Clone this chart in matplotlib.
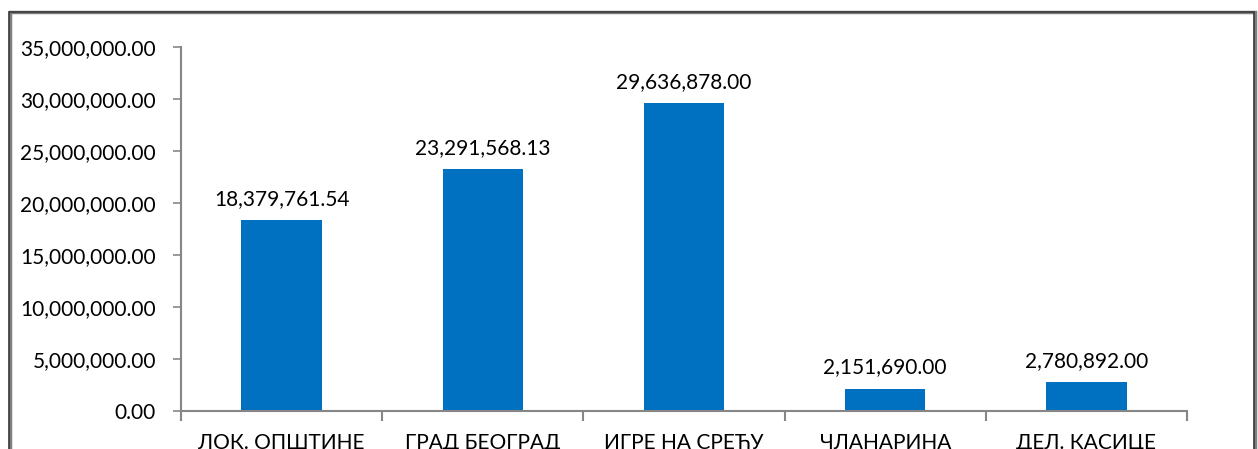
import matplotlib.pyplot as plt
import matplotlib.patches as mpatches
import matplotlib.ticker as mticker
import numpy as np

# Categories and amounts
categories = ['ЛОК. ОПШТИНЕ', 'ГРАД БЕОГРАД', 'ИГРЕ НА СРЕЋУ', 'ЧЛАНАРИНА', 'ДЕЛ. КАСИЦЕ']
amounts = [18379761.54, 23291568.13, 29636878.00, 2151690.00, 2780892.00]
yticks = np.arange(0, 35000001, 5000000)

plt.rcParams['font.family'] = ['Lato', 'DejaVu Sans']

W, H = 1258, 449
fig = plt.figure(figsize=(W / 100, H / 100), dpi=100)

# Outer chart border (cropped at the bottom)
fig.patches.append(mpatches.Rectangle((10 / W, -0.1), 1245 / W, 1 - 12 / H + 0.1,
                                      transform=fig.transFigure, fill=False,
                                      edgecolor='#7f7f7f', linewidth=2.5))
fig.patches.append(mpatches.Rectangle((9 / W, -0.1), 1245 / W, 1 - 12 / H + 0.1,
                                      transform=fig.transFigure, fill=False,
                                      edgecolor='#3a3a3a', linewidth=1.2))

left, right = 181 / W, 1187 / W
bottom, top = 1 - 411 / H, 1 - 47 / H
ax = fig.add_axes([left, bottom, right - left, top - bottom])

x = np.arange(len(categories))
bars = ax.bar(x, amounts, width=0.4, color='#0070c0')

ax.set_xlim(-0.5, len(categories) - 0.5)
ax.set_ylim(0, 35000000)
ax.set_yticks(yticks)
ax.yaxis.set_major_formatter(mticker.FuncFormatter(lambda v, p: f'{v:,.2f}'))

# x ticks at category boundaries, labels centred under bars
ax.set_xticks(np.arange(-0.5, len(categories)), minor=False)
ax.set_xticklabels([])
ax.set_xticks(x, minor=True)
ax.set_xticklabels(categories, minor=True)
ax.tick_params(axis='x', which='major', length=7, width=1.5, color='#868686', direction='out')
ax.tick_params(axis='x', which='minor', length=0, pad=16, labelsize=15)
ax.tick_params(axis='y', length=6, width=1.2, color='#868686', direction='out', labelsize=15, pad=12)

for side in ['top', 'right']:
    ax.spines[side].set_visible(False)
for side in ['left', 'bottom']:
    ax.spines[side].set_color('#868686')
    ax.spines[side].set_linewidth(1.5)

for b, v in zip(bars, amounts):
    ax.annotate(f'{v:,.2f}', (b.get_x() + b.get_width() / 2, v),
                xytext=(0, 8), textcoords='offset points',
                ha='center', va='bottom', fontsize=15)

fig.savefig('out.png', dpi=100)
